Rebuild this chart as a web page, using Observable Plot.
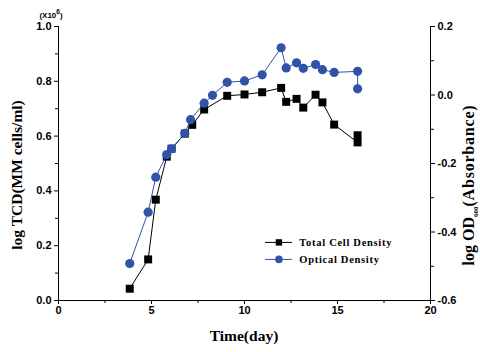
<!DOCTYPE html>
<html>
<head>
<meta charset="utf-8">
<script src="https://cdn.jsdelivr.net/npm/d3@7"></script>
<script src="https://cdn.jsdelivr.net/npm/@observablehq/plot@0.6"></script>
<style>
  html, body { margin: 0; padding: 0; background: #fff; }
</style>
</head>
<body>
<div id="chart"></div>
<script>
// ---- data ----
const tcdDays = [3.83, 4.82, 5.23, 5.82, 6.08, 6.79, 7.19, 7.83, 9.07, 10.0, 10.95, 11.97, 12.24, 12.8, 13.16, 13.82, 14.19, 14.82, 16.08, 16.08];
const tcdValues = [0.043, 0.150, 0.368, 0.525, 0.554, 0.609, 0.641, 0.697, 0.747, 0.752, 0.760, 0.776, 0.725, 0.736, 0.704, 0.751, 0.723, 0.642, 0.577, 0.603];
const odDays = [3.83, 4.82, 5.23, 5.82, 6.08, 6.79, 7.10, 7.83, 8.28, 9.07, 10.0, 10.95, 11.97, 12.24, 12.8, 13.16, 13.82, 14.19, 14.82, 16.08, 16.08];
const odValues = [-0.492, -0.342, -0.240, -0.174, -0.157, -0.112, -0.072, -0.024, -0.001, 0.037, 0.041, 0.059, 0.138, 0.079, 0.094, 0.078, 0.089, 0.074, 0.066, 0.069, 0.018];
const xTicks = [0, 5, 10, 15, 20];
const xMinorTicks = [2.5, 7.5, 12.5, 17.5];
const leftTicks = [0, 0.2, 0.4, 0.6, 0.8, 1.0];
const leftMinorTicks = [0.1, 0.3, 0.5, 0.7, 0.9];
const rightTicks = [-0.6, -0.4, -0.2, 0.0, 0.2];
const rightMinorTicks = [-0.5, -0.3, -0.1, 0.1];
const seriesNames = ["Total Cell Density", "Optical Density"];
const legendY = [0.212, 0.150];

// right axis (OD, -0.6..0.2) mapped onto the left scale (0..1)
const toLeft = v => (v + 0.6) / 0.8;
const fromLeft = v => v * 0.8 - 0.6;
const fmt1 = v => { const r = Math.round(v * 10) / 10; return (r < 0 ? "-" : "") + Math.abs(r).toFixed(1); };

const tcd = tcdDays.map((d, i) => ({day: d, value: tcdValues[i]}));
const od = odDays.map((d, i) => ({day: d, value: toLeft(odValues[i])}));

const BLUE = "#3152a6";
const legendData = seriesNames.map((name, i) => ({name, y: legendY[i]}));

const plot = Plot.plot({
  width: 480,
  height: 352,
  marginLeft: 58,
  marginRight: 50,
  marginTop: 26,
  marginBottom: 52,
  style: {fontFamily: "'Liberation Sans', Arial, sans-serif", fontSize: "11px", fontWeight: "bold", background: "white", color: "black"},
  x: {domain: [0, 20]},
  y: {domain: [0, 1]},
  marks: [
    Plot.ruleX([0, 20], {stroke: "black", strokeWidth: 1}),
    Plot.ruleY([0], {stroke: "black", strokeWidth: 1}),
    Plot.axisX(xTicks, {tickSize: 4, tickPadding: 2, tickFormat: d => String(d), label: null}),
    Plot.axisX(xMinorTicks, {tickSize: 3, tickFormat: () => "", label: null}),
    Plot.axisY(leftTicks, {anchor: "left", tickSize: 4, tickPadding: 3, tickFormat: fmt1, label: null}),
    Plot.axisY(leftMinorTicks, {anchor: "left", tickSize: 3, tickFormat: () => "", label: null}),
    Plot.axisY(rightTicks.map(toLeft), {anchor: "right", tickSize: 4, tickPadding: 3, tickFormat: v => fmt1(fromLeft(v)), label: null}),
    Plot.axisY(rightMinorTicks.map(toLeft), {anchor: "right", tickSize: 3, tickFormat: () => "", label: null}),
    // Total Cell Density
    Plot.line(tcd, {x: "day", y: "value", stroke: "black", strokeWidth: 1}),
    Plot.dot(tcd, {x: "day", y: "value", symbol: "square", fill: "black", r: 4.5}),
    // Optical Density
    Plot.line(od, {x: "day", y: "value", stroke: BLUE, strokeWidth: 1}),
    Plot.dot(od, {x: "day", y: "value", symbol: "circle", fill: BLUE, r: 4.6}),
    // legend
    Plot.ruleY(legendData, {x1: 11.13, x2: 12.58, y: "y", stroke: (d, i) => i === 0 ? "black" : BLUE, strokeWidth: 1}),
    Plot.dot(legendData.slice(0, 1), {x: 11.85, y: "y", symbol: "square", fill: "black", r: 3.6}),
    Plot.dot(legendData.slice(1), {x: 11.85, y: "y", symbol: "circle", fill: BLUE, r: 3.8}),
    Plot.text(legendData, {x: 12.95, y: "y", text: "name", textAnchor: "start", fontFamily: "'Liberation Serif', 'Times New Roman', serif", fontSize: 10.5, fontWeight: "bold", fill: "black"})
  ]
});

document.getElementById("chart").appendChild(plot);

const svg = d3.select(plot);
const serif = "'Liberation Serif', 'Times New Roman', serif";

// legend letter spacing
svg.selectAll("text").filter(function() { return seriesNames.includes(this.textContent); })
  .attr("letter-spacing", 0.7);

// x title
svg.append("text")
  .attr("x", 244).attr("y", 341)
  .attr("text-anchor", "middle")
  .attr("font-family", serif).attr("font-size", 15.5).attr("font-weight", "bold")
  .attr("fill", "black")
  .text("Time(day)");

// left title
svg.append("text")
  .attr("transform", "translate(22,175) rotate(-90)")
  .attr("text-anchor", "middle")
  .attr("font-family", serif).attr("font-size", 15.5).attr("font-weight", "bold")
  .attr("fill", "black")
  .text("log TCD(MM cells/ml)");

// right title with subscript
const rt = svg.append("text")
  .attr("transform", "translate(474,185) rotate(-90)")
  .attr("text-anchor", "middle")
  .attr("font-family", serif).attr("font-size", 16).attr("font-weight", "bold")
  .attr("fill", "black");
rt.append("tspan").text("log OD");
rt.append("tspan").attr("font-size", 7).attr("dy", 4).text("600");
rt.append("tspan").attr("dy", -4).attr("letter-spacing", 0.8).text("(Absorbance)");

// multiplier
const mult = svg.append("text")
  .attr("x", 51).attr("y", 18)
  .attr("font-family", "'Liberation Sans', Arial, sans-serif").attr("font-size", 8)
  .attr("fill", "black");
mult.append("tspan").text("(X10");
mult.append("tspan").attr("dy", -4).attr("font-size", 6.5).text("6");
mult.append("tspan").attr("dy", 4).text(")");
</script>
</body>
</html>
